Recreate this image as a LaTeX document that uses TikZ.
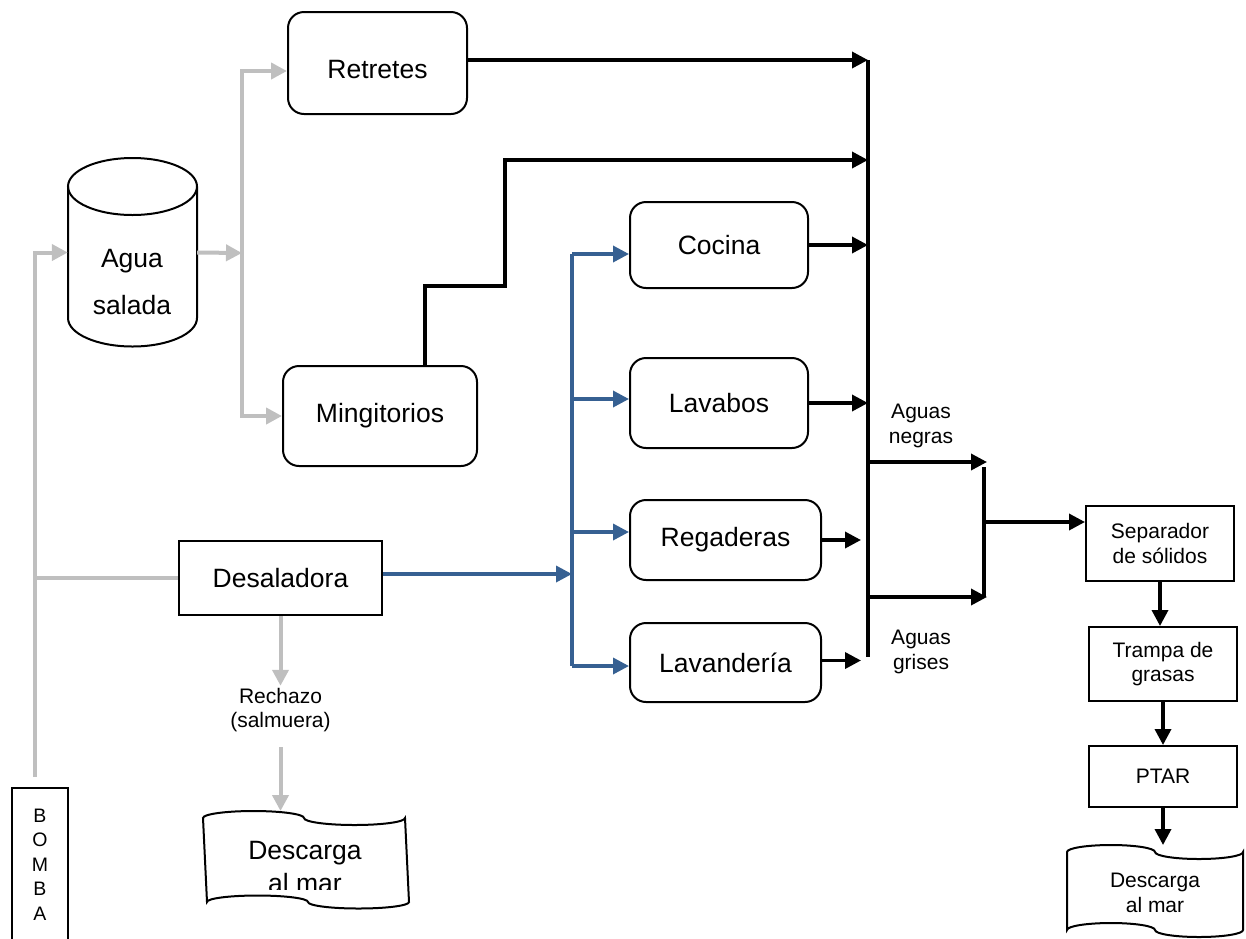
\documentclass[tikz,border=0pt]{standalone}
\usepackage{fontspec}
\setmainfont{Liberation Sans}
\usetikzlibrary{arrows.meta}
\definecolor{pipegray}{RGB}{191,191,191}
\definecolor{pipeblue}{RGB}{54,96,146}
\begin{document}
\begin{tikzpicture}[x=1pt,y=-1pt,
  big/.style={font=\fontsize{26.5}{33}\selectfont},
  small/.style={font=\fontsize{21}{24.5}\selectfont},
  rbox/.style={draw, line width=2pt, rounded corners=16pt, big, inner sep=0pt},
  sbox/.style={draw, line width=2pt, inner sep=0pt},
  tip/.style={-{Triangle[length=16pt,width=16pt]}},
  blkline/.style={draw=black, line width=3.5pt},
  blk/.style={blkline, tip},
  bus/.style={draw=black, line width=4pt},
  gryline/.style={draw=pipegray, line width=4pt},
  gry/.style={gryline, tip},
  bluline/.style={draw=pipeblue, line width=3.5pt},
  blu/.style={bluline, tip},
  tape/.style={line width=2pt}
]
\clip (0,0) rectangle (1246,938);

% ---------- salt water tank ----------
\node[inner sep=0pt, minimum width=129pt, minimum height=189pt] (tank) at (132.5,252.5) {};
\draw[line width=2pt] (68,186.5) -- (68,318)
  arc[start angle=180, end angle=0, x radius=64.5, y radius=28.5] -- (197,186.5);
\draw[line width=2pt] (132.5,186.5) ellipse [x radius=64.5, y radius=28.5];
\node[align=center, font=\fontsize{26.5}{47}\selectfont] (tanktxt) at (132,282) {Agua\\salada};

% ---------- pump ----------
\node[sbox, minimum width=56pt, minimum height=153pt, align=center,
      font=\fontsize{19.5}{24.5}\selectfont] (bomba) at (40,864.5) {B\\O\\M\\B\\A};
\coordinate (pumpOut) at (35,777);

% ---------- fixtures ----------
\node[rbox, minimum width=179pt, minimum height=102pt, text height=30pt, text depth=0pt]
  (ret) at (377.5,63) {Retretes};
\node[rbox, minimum width=194pt, minimum height=100pt] (ming) at (380,416) {Mingitorios};
\node[rbox, minimum width=178pt, minimum height=86pt] (coc) at (719,245) {Cocina};
\node[rbox, minimum width=178pt, minimum height=90pt] (lav) at (719,403) {Lavabos};
\node[rbox, minimum width=191pt, minimum height=80pt] (reg) at (725.5,540) {Regaderas};
\node[rbox, minimum width=191pt, minimum height=79pt] (lvd) at (725.5,662.5) {Lavandería};

% ---------- desalination ----------
\node[sbox, big, minimum width=203pt, minimum height=74pt] (desal) at (280.5,578) {Desaladora};
\node[small, align=center, inner sep=2pt] (rech) at (280.5,710) {Rechazo\\(salmuera)};
\coordinate (desLtop) at (280.5,811);

% left sea discharge (punched tape)
\draw[tape] (203,818)
  arc[start angle=180, end angle=360, x radius=50.5, y radius=7]
  arc[start angle=180, end angle=0, x radius=50.5, y radius=7]
  -- (409,902)
  arc[start angle=0, end angle=180, x radius=50.5, y radius=6.5]
  arc[start angle=0, end angle=-180, x radius=50.5, y radius=6.5]
  -- cycle;
\begin{scope}
  \clip (190,800) rectangle (420,889);
  \node[big, align=center] (desL) at (305,867) {Descarga\\al mar};
\end{scope}

% ---------- treatment train ----------
\node[sbox, small, align=center, minimum width=148pt, minimum height=75pt] (sep) at (1160,543.5) {Separador\\de sólidos};
\node[sbox, small, align=center, minimum width=148pt, minimum height=74pt] (trp) at (1163,664) {Trampa de\\grasas};
\node[sbox, small, minimum width=148pt, minimum height=61pt] (ptar) at (1163,776.5) {PTAR};
\coordinate (desRtop) at (1163,845);

% right sea discharge (punched tape)
\draw[tape] (1067,852)
  arc[start angle=180, end angle=360, x radius=44, y radius=7]
  arc[start angle=180, end angle=0, x radius=44, y radius=7]
  -- (1243,930)
  arc[start angle=0, end angle=180, x radius=44, y radius=7]
  arc[start angle=0, end angle=-180, x radius=44, y radius=7]
  -- cycle;
\node[small, align=center] (desR) at (1155,893) {Descarga\\al mar};

% ---------- salt water distribution (gray) ----------
\coordinate (sp) at (242,253);
\coordinate (retIn) at ([yshift=-8pt]ret.west);
\draw[gry] (pumpOut) |- (tank.west);
\draw[gryline] (pumpOut |- desal.west) -- (desal.west);
\draw[gry] (tank.east) -- (sp);
\draw[gry] (sp) |- (retIn);
\draw[gry] (sp) |- (ming.west);
\draw[gry] (desal.south) -- (rech.north);
\draw[gry, shorten <=13pt] (rech.south) -- (desLtop);

% ---------- fresh water distribution (blue) ----------
\coordinate (dOut) at ([yshift=4pt]desal.east);
\coordinate (bJoin) at (572,574);
\coordinate (bTop) at (572,254);
\coordinate (bBot) at (572,666);
\coordinate (cocIn) at ([yshift=-9pt]coc.west);
\coordinate (lavIn) at ([yshift=4pt]lav.west);
\coordinate (regIn) at ([yshift=8pt]reg.west);
\coordinate (lvdIn) at ([yshift=-3.5pt]lvd.west);
\draw[blu] (dOut) -- (bJoin);
\draw[bluline] (bTop) -- (bBot);
\draw[blu] (bTop) -- (cocIn);
\draw[blu] (bTop |- lavIn) -- (lavIn);
\draw[blu] (bTop |- regIn) -- (regIn);
\draw[blu] (bBot) -- (lvdIn);

% ---------- wastewater collection (black) ----------
\coordinate (busT) at (868,60);
\coordinate (busB) at (868,657);
\coordinate (busS) at (861,0);
\coordinate (bus2) at (868,160);
\coordinate (rOut) at ([yshift=3pt]ret.east);
\coordinate (lvdOut) at ([yshift=2pt]lvd.east);
\draw[bus] (busT) -- (busB);
\draw[blk] (rOut) -- (rOut -| busT);
\draw[blk] ([xshift=45pt]ming.north) |- (505,286) |- (bus2);
\draw[blk] (coc.east) -- (coc.east -| busT);
\draw[blk] (lav.east) -- (lav.east -| busT);
\draw[blk] (reg.east) -- (reg.east -| busS);
\draw[blk] (lvdOut) -- (lvdOut -| busS);

\coordinate (negA) at (868,462);
\coordinate (negB) at (987,462);
\coordinate (grsA) at (868,597);
\coordinate (grsB) at (987,597);
\coordinate (jTop) at (984,467);
\coordinate (jBot) at (984,597);
\coordinate (jMid) at (984,522);
\draw[blk] (negA) -- (negB);
\draw[blk] (grsA) -- (grsB);
\draw[bus] (jTop) -- (jBot);
\draw[blk] (jMid) -- (jMid -| sep.west);
\node[small, align=center] (negras) at (921,426) {Aguas\\negras};
\node[small, align=center] (grises) at (921,652) {Aguas\\grises};

\draw[blk] (sep.south) -- (sep.south |- trp.north);
\draw[blk] (trp.south) -- (ptar.north);
\draw[blk] (ptar.south) -- (desRtop);
\end{tikzpicture}
\end{document}
